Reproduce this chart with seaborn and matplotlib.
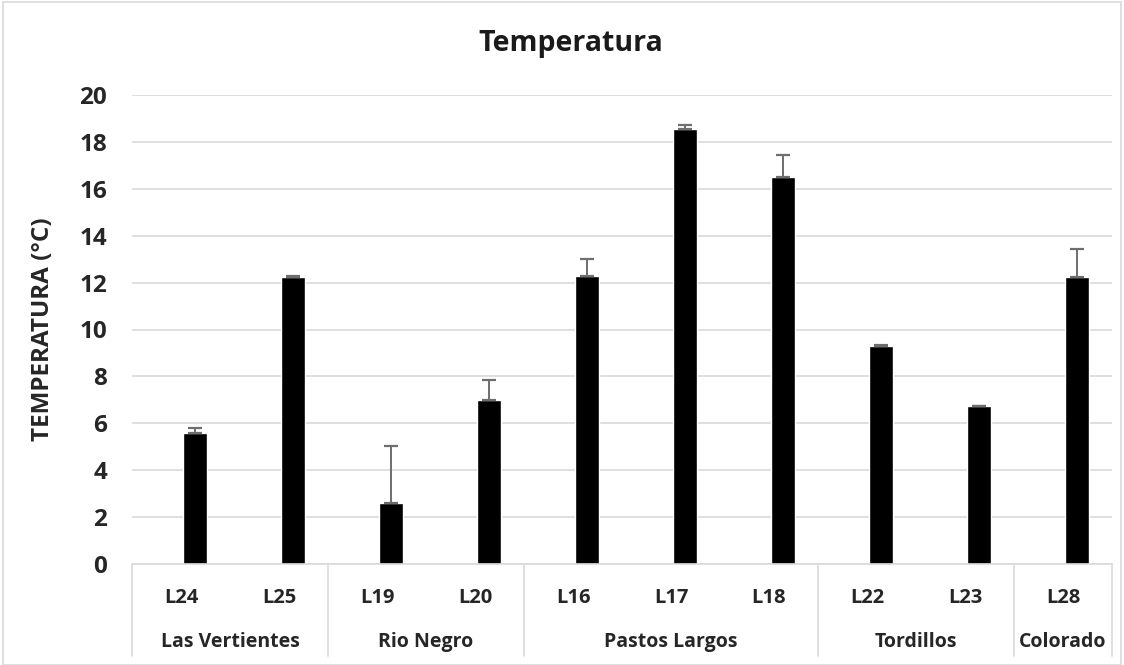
import numpy as np
import pandas as pd
import matplotlib
matplotlib.use("Agg")
import matplotlib.pyplot as plt
from matplotlib.lines import Line2D
from matplotlib.patches import Rectangle
import seaborn as sns

# Sampling sites, grouped by river
sites = ["L24", "L25", "L19", "L20", "L16", "L17", "L18", "L22", "L23", "L28"]
rivers = ["Las Vertientes", "Las Vertientes", "Rio Negro", "Rio Negro",
          "Pastos Largos", "Pastos Largos", "Pastos Largos",
          "Tordillos", "Tordillos", "Colorado"]
temperature = [5.6, 12.25, 2.6, 7.0, 12.3, 18.55, 16.5, 9.3, 6.72, 12.25]
temp_err = [0.2, 0.05, 2.45, 0.85, 0.7, 0.15, 0.95, 0.02, 0.02, 1.2]

df = pd.DataFrame({"site": sites, "river": rivers, "temp": temperature, "err": temp_err})

sns.set_theme(style="white")
plt.rcParams["font.family"] = ["Open Sans", "DejaVu Sans"]
TXT = "#262626"

fig = plt.figure(figsize=(11.24, 6.65), dpi=100)
W, H = 1124, 665
left, right, top, bottom = 132, 1112, 95, 564
ax = fig.add_axes([left / W, 1 - bottom / H, (right - left) / W, (bottom - top) / H])

# Bars sit slightly right of the category centre (clustered-column layout)
shift = 0.145
bar_w = 0.245
sns.barplot(data=df, x="site", y="temp", color="black", width=bar_w,
            saturation=1, ax=ax, errorbar=None)
for p in ax.patches:
    p.set_x(p.get_x() + shift)
xs = np.arange(len(sites)) + shift
ax.errorbar(xs, df["temp"], yerr=[np.zeros(len(sites)), df["err"]], fmt="none",
            ecolor="#6e6e6e", elinewidth=1.4, capsize=5, capthick=1.6, zorder=3)

ax.set_ylim(0, 20)
ax.set_xlim(-0.5, len(sites) - 0.5)
ax.set_yticks(np.arange(0, 21, 2))
ax.yaxis.grid(True, color="#d9d9d9", linewidth=1.2)
ax.set_axisbelow(True)
for s in ["top", "right", "left"]:
    ax.spines[s].set_visible(False)
ax.spines["bottom"].set_color("#d9d9d9")
ax.spines["bottom"].set_linewidth(1.2)
ax.tick_params(axis="y", length=0, pad=18, labelsize=17.5)
ax.tick_params(axis="x", length=0, pad=17, labelsize=14.5)
for lab in ax.get_yticklabels() + ax.get_xticklabels():
    lab.set_fontweight("bold")
    lab.set_color(TXT)
ax.set_xlabel("")
ax.set_ylabel("TEMPERATURA (°C)", fontsize=17.5, fontweight="bold", color=TXT)
ax.yaxis.set_label_coords(-(left - 55) / (right - left), 0.5)

# River group labels and separators below the axis
trans = ax.get_xaxis_transform()
sep_bottom = -(656 - bottom) / (bottom - top)
group_y = -(642 - bottom) / (bottom - top)
bounds = [-0.5]
groups = []
i = 0
while i < len(rivers):
    j = i
    while j + 1 < len(rivers) and rivers[j + 1] == rivers[i]:
        j += 1
    groups.append((rivers[i], i, j))
    bounds.append(j + 0.5)
    i = j + 1
for b in bounds:
    ax.add_line(Line2D([b, b], [0, sep_bottom], transform=trans, color="#d9d9d9",
                       linewidth=1.2, clip_on=False))
for name, a, b in groups:
    ax.text((a + b) / 2, group_y, name, transform=trans, ha="center", va="center",
            fontsize=14, fontweight="bold", color=TXT)

fig.text(571 / W, 1 - 44 / H, "Temperatura", ha="center", va="center",
         fontsize=20.5, fontweight="bold", color="#1a1a1a")
fig.add_artist(Rectangle((3 / W, 0), 1 - 6 / W, 1 - 2 / H, transform=fig.transFigure,
                         fill=False, edgecolor="#d9d9d9", linewidth=1.2))

fig.savefig("out.png", dpi=100, facecolor="white")
